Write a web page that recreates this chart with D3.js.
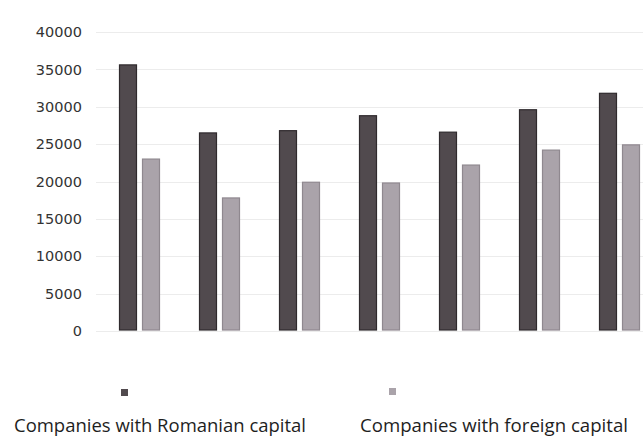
<!DOCTYPE html>
<html>
<head>
<meta charset="utf-8">
<script src="https://cdn.jsdelivr.net/npm/d3@7"></script>
<style>
  html, body { margin: 0; padding: 0; background: #ffffff; }
  svg { display: block; }
</style>
</head>
<body>
<svg id="chart" width="643" height="438"></svg>
<script>
// ---- data ----
const categories = ["G1", "G2", "G3", "G4", "G5", "G6", "G7"];
const seriesNames = ["Companies with Romanian capital", "Companies with foreign capital"];
const romanianValues = [35600, 26500, 26800, 28800, 26600, 29600, 31800];
const foreignValues  = [23000, 17800, 19900, 19800, 22200, 24200, 24900];
const yTicks = [0, 5000, 10000, 15000, 20000, 25000, 30000, 35000, 40000];

const colors = ["#514a4e", "#aaa3aa"];
const strokes = ["#2f2a2d", "#8f888f"];

const svg = d3.select("#chart");

const x0 = d3.scaleBand()
  .domain(categories)
  .range([99.5, 659.5])
  .paddingInner(0.4875)
  .paddingOuter(0.24375);

const x1 = d3.scaleBand()
  .domain([0, 1])
  .range([0, x0.bandwidth()])
  .paddingInner(5 / 23);

const y = d3.scaleLinear().domain([0, 40000]).range([331, 32]);

// gridlines
svg.append("g")
  .selectAll("line")
  .data(yTicks)
  .join("line")
  .attr("x1", 96).attr("x2", 643)
  .attr("y1", d => Math.round(y(d)) + 0.5)
  .attr("y2", d => Math.round(y(d)) + 0.5)
  .attr("stroke", "#ececec")
  .attr("stroke-width", 1);

// y axis labels via d3 axis
const yAxis = svg.append("g")
  .attr("transform", "translate(84,0)")
  .call(d3.axisLeft(y).tickValues(yTicks).tickSize(0).tickPadding(2).tickFormat(d3.format("d")));
yAxis.select(".domain").remove();
yAxis.selectAll("text")
  .attr("font-family", "DejaVu Sans, sans-serif")
  .attr("font-size", 14.5)
  .attr("fill", "#333");

// bars
const rows = categories.map((c, i) => ({ c, vals: [romanianValues[i], foreignValues[i]] }));
const groups = svg.append("g")
  .selectAll("g")
  .data(rows)
  .join("g")
  .attr("transform", d => `translate(${x0(d.c)},0)`);

groups.selectAll("rect")
  .data(d => d.vals.map((v, k) => ({ v, k })))
  .join("rect")
  .attr("x", d => x1(d.k) + 0.5)
  .attr("width", x1.bandwidth() - 1)
  .attr("y", d => y(d.v))
  .attr("height", d => y(0) - y(d.v) - 1)
  .attr("fill", d => colors[d.k])
  .attr("stroke", d => strokes[d.k])
  .attr("stroke-width", 1.2);

// legend
const legendMarkers = [{ x: 121, y: 389 }, { x: 389, y: 388 }];
const legendTexts = [{ x: 14, w: 292 }, { x: 360, w: 268 }];
seriesNames.forEach((name, k) => {
  svg.append("rect")
    .attr("x", legendMarkers[k].x).attr("y", legendMarkers[k].y)
    .attr("width", 7).attr("height", 7)
    .attr("fill", colors[k]);
  svg.append("text")
    .attr("x", legendTexts[k].x).attr("y", 432)
    .attr("font-family", "Open Sans, Noto Sans, sans-serif")
    .attr("font-size", 19)
    .attr("fill", "#1e1e1e")
    .attr("textLength", legendTexts[k].w)
    .attr("lengthAdjust", "spacingAndGlyphs")
    .text(name);
});
</script>
</body>
</html>
